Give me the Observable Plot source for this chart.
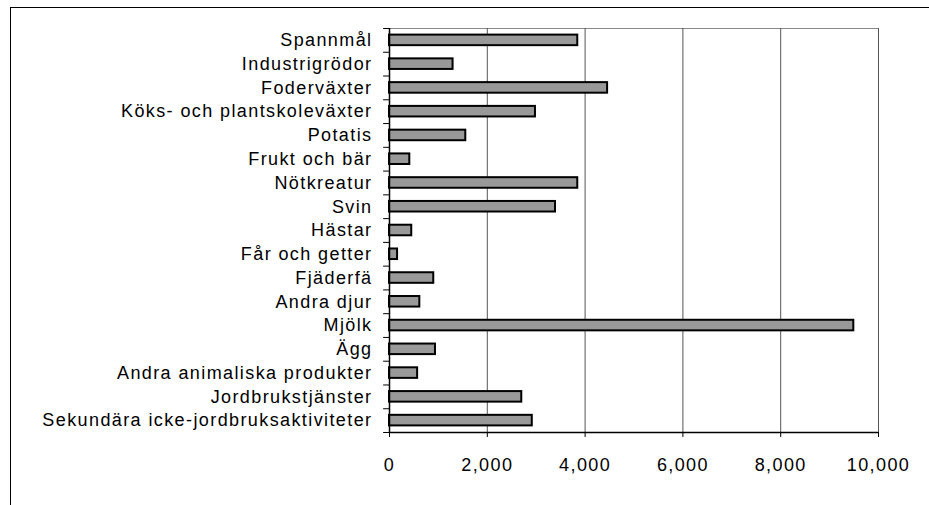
<!DOCTYPE html>
<html>
<head>
<meta charset="utf-8">
<script src="https://cdn.jsdelivr.net/npm/d3@7"></script>
<script src="https://cdn.jsdelivr.net/npm/@observablehq/plot@0.6"></script>
<style>
  html, body { margin: 0; padding: 0; background: #fff; }
  #wrap { position: relative; width: 929px; height: 505px; overflow: hidden; }
  #border { position: absolute; left: 10px; top: 7px; width: 940px; height: 520px; border-left: 1.5px solid #000; border-top: 1.5px solid #000; box-sizing: border-box; }
  #chart { position: absolute; left: 0; top: 0; }
  svg { font-family: "Liberation Sans", Arial, sans-serif; }
  svg text { letter-spacing: 1.4px; }
</style>
</head>
<body>
<div id="wrap"><div id="border"></div><div id="chart"></div></div>
<script>
const categories = [
  "Spannmål", "Industrigrödor", "Foderväxter", "Köks- och plantskoleväxter",
  "Potatis", "Frukt och bär", "Nötkreatur", "Svin", "Hästar", "Får och getter",
  "Fjäderfä", "Andra djur", "Mjölk", "Ägg", "Andra animaliska produkter",
  "Jordbrukstjänster", "Sekundära icke-jordbruksaktiviteter"
];
const values = [3850, 1300, 4460, 2985, 1560, 415, 3850, 3395, 455, 165, 905, 620, 9495, 940, 575, 2705, 2920];
const xTicks = [0, 2000, 4000, 6000, 8000, 10000];
const gridTicks = [2000, 4000, 6000, 8000, 10000];

const data = categories.map((c, i) => ({category: c, value: values[i]}));
const lastCat = categories[categories.length - 1];

const marginTop = 28, marginBottom = 73, height = 505;
const step = (height - marginTop - marginBottom) / categories.length;

const chart = Plot.plot({
  width: 929,
  height: height,
  marginLeft: 389,
  marginRight: 51,
  marginTop: marginTop,
  marginBottom: marginBottom,
  style: {fontFamily: "'Liberation Sans', Arial, sans-serif", fontSize: "18px", color: "#000", background: "transparent"},
  x: {domain: [0, 10000], ticks: xTicks, tickFormat: d3.format(","), label: null},
  y: {domain: categories, padding: 0, round: false, label: null},
  marks: [
    Plot.frame({stroke: "#888", strokeWidth: 1}),
    Plot.ruleX(gridTicks, {stroke: "#555", strokeWidth: 1}),
    Plot.barX(data, {x: "value", y: "category", fill: "#999999", stroke: "#000", strokeWidth: 2, insetTop: 6.6, insetBottom: 6.6}),
    Plot.ruleX([0], {stroke: "#000", strokeWidth: 1.5}),
    Plot.ruleY(categories, {y: d => d, x1: -120, x2: 0, dy: -step / 2, stroke: "#000", strokeWidth: 1}),
    Plot.ruleY([lastCat], {y: d => d, x1: -120, x2: 0, dy: step / 2, stroke: "#000", strokeWidth: 1}),
    Plot.axisY({tickSize: 0, tickPadding: 17, fontSize: 18, label: null}),
    Plot.axisX({ticks: xTicks, tickFormat: d3.format(","), tickSize: 5, tickPadding: 21, fontSize: 18, label: null}),
    Plot.ruleY([lastCat], {y: d => d, dy: step / 2, stroke: "#000", strokeWidth: 1.5})
  ]
});
document.getElementById("chart").appendChild(chart);
</script>
</body>
</html>
